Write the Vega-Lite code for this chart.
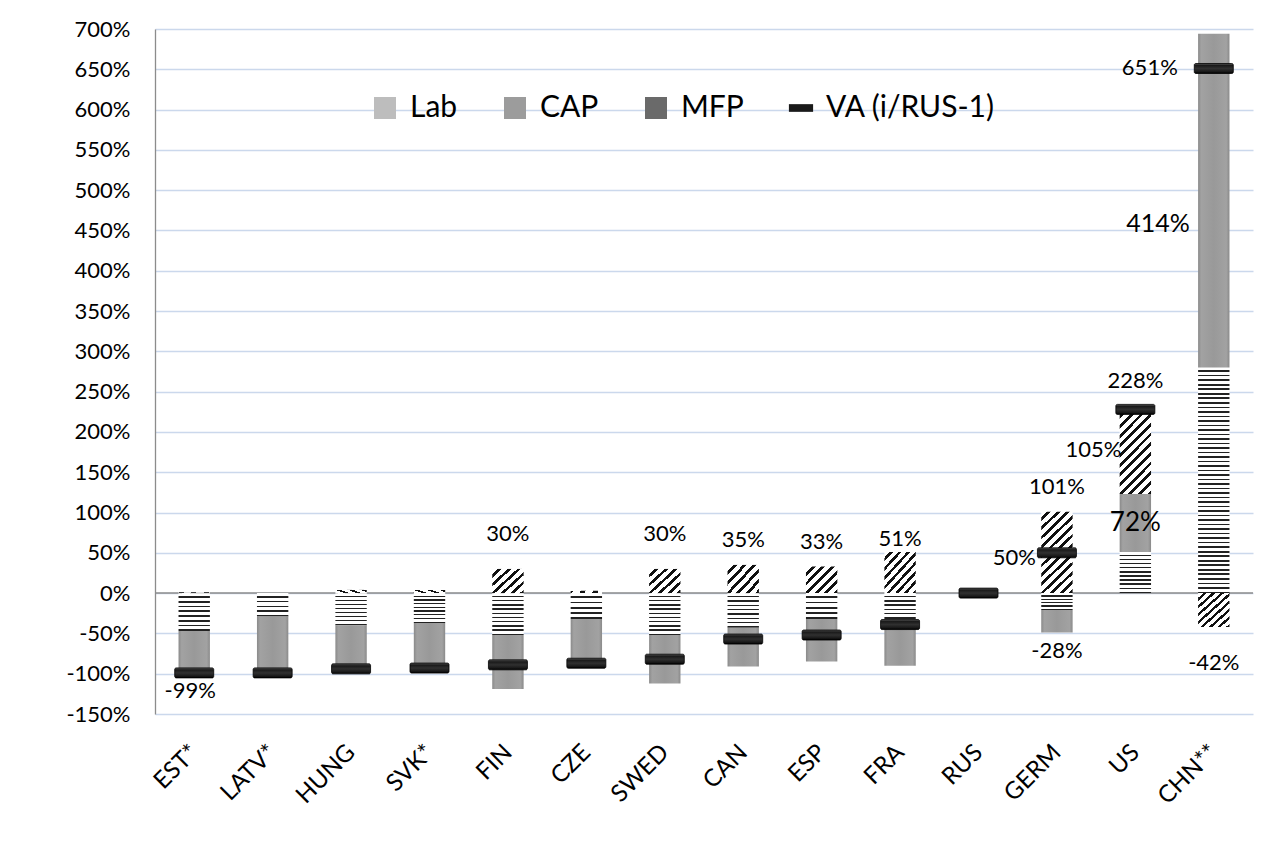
{
"$schema":"https://vega.github.io/schema/vega-lite/v6.json",
"width":1098,"height":685,
"autosize":{"type":"none"},
"padding":{"left":155,"top":29,"right":35,"bottom":141},
"background":"#ffffff",
"config":{"font":"Lato","view":{"stroke":null},"locale":{"number":{"decimal":".","thousands":",","grouping":[3],"currency":["$",""],"minus":"-"}},"text":{"font":"Lato","fontSize":22,"color":"#000"}},
"datasets":{
"comp":[
{"country":"EST*","component":"Lab","k":1,"value":-0.47},{"country":"EST*","component":"CAP","k":2,"value":-0.53},{"country":"EST*","component":"MFP","k":3,"value":0.01},
{"country":"LATV*","component":"Lab","k":1,"value":-0.29},{"country":"LATV*","component":"CAP","k":2,"value":-0.70},{"country":"LATV*","component":"MFP","k":3,"value":0},
{"country":"HUNG","component":"Lab","k":1,"value":-0.40},{"country":"HUNG","component":"CAP","k":2,"value":-0.58},{"country":"HUNG","component":"MFP","k":3,"value":0.04},
{"country":"SVK*","component":"Lab","k":1,"value":-0.37},{"country":"SVK*","component":"CAP","k":2,"value":-0.60},{"country":"SVK*","component":"MFP","k":3,"value":0.04},
{"country":"FIN","component":"Lab","k":1,"value":-0.52},{"country":"FIN","component":"CAP","k":2,"value":-0.67},{"country":"FIN","component":"MFP","k":3,"value":0.30},
{"country":"CZE","component":"Lab","k":1,"value":-0.32},{"country":"CZE","component":"CAP","k":2,"value":-0.58},{"country":"CZE","component":"MFP","k":3,"value":0.03},
{"country":"SWED","component":"Lab","k":1,"value":-0.52},{"country":"SWED","component":"CAP","k":2,"value":-0.60},{"country":"SWED","component":"MFP","k":3,"value":0.30},
{"country":"CAN","component":"Lab","k":1,"value":-0.43},{"country":"CAN","component":"CAP","k":2,"value":-0.48},{"country":"CAN","component":"MFP","k":3,"value":0.35},
{"country":"ESP","component":"Lab","k":1,"value":-0.32},{"country":"ESP","component":"CAP","k":2,"value":-0.53},{"country":"ESP","component":"MFP","k":3,"value":0.33},
{"country":"FRA","component":"Lab","k":1,"value":-0.42},{"country":"FRA","component":"CAP","k":2,"value":-0.48},{"country":"FRA","component":"MFP","k":3,"value":0.51},
{"country":"RUS","component":"Lab","k":1,"value":0},{"country":"RUS","component":"CAP","k":2,"value":0},{"country":"RUS","component":"MFP","k":3,"value":0},
{"country":"GERM","component":"Lab","k":1,"value":-0.21},{"country":"GERM","component":"CAP","k":2,"value":-0.28},{"country":"GERM","component":"MFP","k":3,"value":1.01},
{"country":"US","component":"Lab","k":1,"value":0.51},{"country":"US","component":"CAP","k":2,"value":0.72},{"country":"US","component":"MFP","k":3,"value":1.05},
{"country":"CHN**","component":"Lab","k":1,"value":2.80},{"country":"CHN**","component":"CAP","k":2,"value":4.14},{"country":"CHN**","component":"MFP","k":3,"value":-0.42}
],
"va":[
{"country":"EST*","va":-0.99},{"country":"LATV*","va":-0.99},{"country":"HUNG","va":-0.94},{"country":"SVK*","va":-0.93},{"country":"FIN","va":-0.89},{"country":"CZE","va":-0.87},{"country":"SWED","va":-0.82},{"country":"CAN","va":-0.57},{"country":"ESP","va":-0.52},{"country":"FRA","va":-0.39},{"country":"RUS","va":0},{"country":"GERM","va":0.50},{"country":"US","va":2.28},{"country":"CHN**","va":6.51}
]},
"layer":[
{"data":{"values":[{}]},"mark":{"type":"rule","color":"#8c8c8c","strokeWidth":1.5},
 "encoding":{"y":{"datum":0,"type":"quantitative","scale":{"domain":[-1.5,7],"nice":false,"zero":false},
  "axis":{"title":null,"values":[-1.5,-1,-0.5,0,0.5,1,1.5,2,2.5,3,3.5,4,4.5,5,5.5,6,6.5,7],"format":".0%","grid":true,"gridColor":"#cbd8ec","gridWidth":1.3,"ticks":false,"domain":true,"domainColor":"#8c8c8c","domainWidth":1.3,"labelFontSize":22,"labelColor":"#000","labelPadding":25,"labelFont":"Lato"}}}},
{"data":{"name":"comp"},
 "encoding":{
  "x":{"field":"country","type":"nominal","sort":null,"scale":{"domain":["EST*","LATV*","HUNG","SVK*","FIN","CZE","SWED","CAN","ESP","FRA","RUS","GERM","US","CHN**"],"paddingInner":0.6,"paddingOuter":0.3},
   "axis":{"title":null,"labelAngle":-45,"labelFontSize":24,"labelColor":"#000","labelFont":"Lato","ticks":false,"domain":false,"labelPadding":26,"labelOffset":-8,"grid":false}},
  "y":{"field":"value","type":"quantitative","stack":"zero"},
  "detail":{"field":"component"},
  "order":{"field":"k","type":"quantitative"}},
 "layer":[
  {"mark":{"type":"bar"},
   "encoding":{"fill":{
    "condition":[
     {"test":"datum.component==='Lab' && datum.country==='CHN**'","value":{"gradient":"linear","x1":0,"y1":0,"x2":0,"y2":1,"stops":[
{"offset":0,"color":"#fff"},{"offset":0.013,"color":"#fff"},{"offset":0.013,"color":"#222"},{"offset":0.02,"color":"#222"},
{"offset":0.02,"color":"#fff"},{"offset":0.033,"color":"#fff"},{"offset":0.033,"color":"#222"},{"offset":0.04,"color":"#222"},
{"offset":0.04,"color":"#fff"},{"offset":0.053,"color":"#fff"},{"offset":0.053,"color":"#222"},{"offset":0.06,"color":"#222"},
{"offset":0.06,"color":"#fff"},{"offset":0.073,"color":"#fff"},{"offset":0.073,"color":"#222"},{"offset":0.08,"color":"#222"},
{"offset":0.08,"color":"#fff"},{"offset":0.093,"color":"#fff"},{"offset":0.093,"color":"#222"},{"offset":0.1,"color":"#222"},
{"offset":0.1,"color":"#fff"},{"offset":0.113,"color":"#fff"},{"offset":0.113,"color":"#222"},{"offset":0.12,"color":"#222"},
{"offset":0.12,"color":"#fff"},{"offset":0.133,"color":"#fff"},{"offset":0.133,"color":"#222"},{"offset":0.14,"color":"#222"},
{"offset":0.14,"color":"#fff"},{"offset":0.153,"color":"#fff"},{"offset":0.153,"color":"#222"},{"offset":0.16,"color":"#222"},
{"offset":0.16,"color":"#fff"},{"offset":0.173,"color":"#fff"},{"offset":0.173,"color":"#222"},{"offset":0.18,"color":"#222"},
{"offset":0.18,"color":"#fff"},{"offset":0.193,"color":"#fff"},{"offset":0.193,"color":"#222"},{"offset":0.2,"color":"#222"},
{"offset":0.2,"color":"#fff"},{"offset":0.213,"color":"#fff"},{"offset":0.213,"color":"#222"},{"offset":0.22,"color":"#222"},
{"offset":0.22,"color":"#fff"},{"offset":0.233,"color":"#fff"},{"offset":0.233,"color":"#222"},{"offset":0.24,"color":"#222"},
{"offset":0.24,"color":"#fff"},{"offset":0.253,"color":"#fff"},{"offset":0.253,"color":"#222"},{"offset":0.26,"color":"#222"},
{"offset":0.26,"color":"#fff"},{"offset":0.273,"color":"#fff"},{"offset":0.273,"color":"#222"},{"offset":0.28,"color":"#222"},
{"offset":0.28,"color":"#fff"},{"offset":0.293,"color":"#fff"},{"offset":0.293,"color":"#222"},{"offset":0.3,"color":"#222"},
{"offset":0.3,"color":"#fff"},{"offset":0.313,"color":"#fff"},{"offset":0.313,"color":"#222"},{"offset":0.32,"color":"#222"},
{"offset":0.32,"color":"#fff"},{"offset":0.333,"color":"#fff"},{"offset":0.333,"color":"#222"},{"offset":0.34,"color":"#222"},
{"offset":0.34,"color":"#fff"},{"offset":0.353,"color":"#fff"},{"offset":0.353,"color":"#222"},{"offset":0.36,"color":"#222"},
{"offset":0.36,"color":"#fff"},{"offset":0.373,"color":"#fff"},{"offset":0.373,"color":"#222"},{"offset":0.38,"color":"#222"},
{"offset":0.38,"color":"#fff"},{"offset":0.393,"color":"#fff"},{"offset":0.393,"color":"#222"},{"offset":0.4,"color":"#222"},
{"offset":0.4,"color":"#fff"},{"offset":0.413,"color":"#fff"},{"offset":0.413,"color":"#222"},{"offset":0.42,"color":"#222"},
{"offset":0.42,"color":"#fff"},{"offset":0.433,"color":"#fff"},{"offset":0.433,"color":"#222"},{"offset":0.44,"color":"#222"},
{"offset":0.44,"color":"#fff"},{"offset":0.453,"color":"#fff"},{"offset":0.453,"color":"#222"},{"offset":0.46,"color":"#222"},
{"offset":0.46,"color":"#fff"},{"offset":0.473,"color":"#fff"},{"offset":0.473,"color":"#222"},{"offset":0.48,"color":"#222"},
{"offset":0.48,"color":"#fff"},{"offset":0.493,"color":"#fff"},{"offset":0.493,"color":"#222"},{"offset":0.5,"color":"#222"},
{"offset":0.5,"color":"#fff"},{"offset":0.513,"color":"#fff"},{"offset":0.513,"color":"#222"},{"offset":0.52,"color":"#222"},
{"offset":0.52,"color":"#fff"},{"offset":0.533,"color":"#fff"},{"offset":0.533,"color":"#222"},{"offset":0.54,"color":"#222"},
{"offset":0.54,"color":"#fff"},{"offset":0.553,"color":"#fff"},{"offset":0.553,"color":"#222"},{"offset":0.56,"color":"#222"},
{"offset":0.56,"color":"#fff"},{"offset":0.573,"color":"#fff"},{"offset":0.573,"color":"#222"},{"offset":0.58,"color":"#222"},
{"offset":0.58,"color":"#fff"},{"offset":0.593,"color":"#fff"},{"offset":0.593,"color":"#222"},{"offset":0.6,"color":"#222"},
{"offset":0.6,"color":"#fff"},{"offset":0.613,"color":"#fff"},{"offset":0.613,"color":"#222"},{"offset":0.62,"color":"#222"},
{"offset":0.62,"color":"#fff"},{"offset":0.633,"color":"#fff"},{"offset":0.633,"color":"#222"},{"offset":0.64,"color":"#222"},
{"offset":0.64,"color":"#fff"},{"offset":0.653,"color":"#fff"},{"offset":0.653,"color":"#222"},{"offset":0.66,"color":"#222"},
{"offset":0.66,"color":"#fff"},{"offset":0.673,"color":"#fff"},{"offset":0.673,"color":"#222"},{"offset":0.68,"color":"#222"},
{"offset":0.68,"color":"#fff"},{"offset":0.693,"color":"#fff"},{"offset":0.693,"color":"#222"},{"offset":0.7,"color":"#222"},
{"offset":0.7,"color":"#fff"},{"offset":0.713,"color":"#fff"},{"offset":0.713,"color":"#222"},{"offset":0.72,"color":"#222"},
{"offset":0.72,"color":"#fff"},{"offset":0.733,"color":"#fff"},{"offset":0.733,"color":"#222"},{"offset":0.74,"color":"#222"},
{"offset":0.74,"color":"#fff"},{"offset":0.753,"color":"#fff"},{"offset":0.753,"color":"#222"},{"offset":0.76,"color":"#222"},
{"offset":0.76,"color":"#fff"},{"offset":0.773,"color":"#fff"},{"offset":0.773,"color":"#222"},{"offset":0.78,"color":"#222"},
{"offset":0.78,"color":"#fff"},{"offset":0.793,"color":"#fff"},{"offset":0.793,"color":"#222"},{"offset":0.8,"color":"#222"},
{"offset":0.8,"color":"#fff"},{"offset":0.813,"color":"#fff"},{"offset":0.813,"color":"#222"},{"offset":0.82,"color":"#222"},
{"offset":0.82,"color":"#fff"},{"offset":0.833,"color":"#fff"},{"offset":0.833,"color":"#222"},{"offset":0.84,"color":"#222"},
{"offset":0.84,"color":"#fff"},{"offset":0.853,"color":"#fff"},{"offset":0.853,"color":"#222"},{"offset":0.86,"color":"#222"},
{"offset":0.86,"color":"#fff"},{"offset":0.873,"color":"#fff"},{"offset":0.873,"color":"#222"},{"offset":0.88,"color":"#222"},
{"offset":0.88,"color":"#fff"},{"offset":0.893,"color":"#fff"},{"offset":0.893,"color":"#222"},{"offset":0.9,"color":"#222"},
{"offset":0.9,"color":"#fff"},{"offset":0.913,"color":"#fff"},{"offset":0.913,"color":"#222"},{"offset":0.92,"color":"#222"},
{"offset":0.92,"color":"#fff"},{"offset":0.933,"color":"#fff"},{"offset":0.933,"color":"#222"},{"offset":0.94,"color":"#222"},
{"offset":0.94,"color":"#fff"},{"offset":0.953,"color":"#fff"},{"offset":0.953,"color":"#222"},{"offset":0.96,"color":"#222"},
{"offset":0.96,"color":"#fff"},{"offset":0.973,"color":"#fff"},{"offset":0.973,"color":"#222"},{"offset":0.98,"color":"#222"},
{"offset":0.98,"color":"#fff"},{"offset":0.993,"color":"#fff"},{"offset":0.993,"color":"#222"},{"offset":1,"color":"#222"}]}},
     {"test":"datum.component==='Lab' && indexof(['LATV*','CZE','ESP','GERM'],datum.country)>=0","value":{"gradient":"linear","x1":0,"y1":0,"x2":0,"y2":1,"stops":[{"offset":0,"color":"#fff"},{"offset":0.13,"color":"#fff"},{"offset":0.13,"color":"#222"},{"offset":0.2,"color":"#222"},{"offset":0.2,"color":"#fff"},{"offset":0.33,"color":"#fff"},{"offset":0.33,"color":"#222"},{"offset":0.4,"color":"#222"},{"offset":0.4,"color":"#fff"},{"offset":0.53,"color":"#fff"},{"offset":0.53,"color":"#222"},{"offset":0.6,"color":"#222"},{"offset":0.6,"color":"#fff"},{"offset":0.73,"color":"#fff"},{"offset":0.73,"color":"#222"},{"offset":0.8,"color":"#222"},{"offset":0.8,"color":"#fff"},{"offset":0.93,"color":"#fff"},{"offset":0.93,"color":"#222"},{"offset":1,"color":"#222"}]}},
     {"test":"datum.component==='Lab' && indexof(['FIN','SWED','US'],datum.country)>=0","value":{"gradient":"linear","x1":0,"y1":0,"x2":0,"y2":1,"stops":[{"offset":0,"color":"#fff"},{"offset":0.065,"color":"#fff"},{"offset":0.065,"color":"#222"},{"offset":0.1,"color":"#222"},{"offset":0.1,"color":"#fff"},{"offset":0.165,"color":"#fff"},{"offset":0.165,"color":"#222"},{"offset":0.2,"color":"#222"},{"offset":0.2,"color":"#fff"},{"offset":0.265,"color":"#fff"},{"offset":0.265,"color":"#222"},{"offset":0.3,"color":"#222"},{"offset":0.3,"color":"#fff"},{"offset":0.365,"color":"#fff"},{"offset":0.365,"color":"#222"},{"offset":0.4,"color":"#222"},{"offset":0.4,"color":"#fff"},{"offset":0.465,"color":"#fff"},{"offset":0.465,"color":"#222"},{"offset":0.5,"color":"#222"},{"offset":0.5,"color":"#fff"},{"offset":0.565,"color":"#fff"},{"offset":0.565,"color":"#222"},{"offset":0.6,"color":"#222"},{"offset":0.6,"color":"#fff"},{"offset":0.665,"color":"#fff"},{"offset":0.665,"color":"#222"},{"offset":0.7,"color":"#222"},{"offset":0.7,"color":"#fff"},{"offset":0.765,"color":"#fff"},{"offset":0.765,"color":"#222"},{"offset":0.8,"color":"#222"},{"offset":0.8,"color":"#fff"},{"offset":0.865,"color":"#fff"},{"offset":0.865,"color":"#222"},{"offset":0.9,"color":"#222"},{"offset":0.9,"color":"#fff"},{"offset":0.965,"color":"#fff"},{"offset":0.965,"color":"#222"},{"offset":1,"color":"#222"}]}},
     {"test":"datum.component==='Lab'","value":{"gradient":"linear","x1":0,"y1":0,"x2":0,"y2":1,"stops":[{"offset":0,"color":"#fff"},{"offset":0.08,"color":"#fff"},{"offset":0.08,"color":"#222"},{"offset":0.125,"color":"#222"},{"offset":0.125,"color":"#fff"},{"offset":0.205,"color":"#fff"},{"offset":0.205,"color":"#222"},{"offset":0.25,"color":"#222"},{"offset":0.25,"color":"#fff"},{"offset":0.33,"color":"#fff"},{"offset":0.33,"color":"#222"},{"offset":0.375,"color":"#222"},{"offset":0.375,"color":"#fff"},{"offset":0.455,"color":"#fff"},{"offset":0.455,"color":"#222"},{"offset":0.5,"color":"#222"},{"offset":0.5,"color":"#fff"},{"offset":0.58,"color":"#fff"},{"offset":0.58,"color":"#222"},{"offset":0.625,"color":"#222"},{"offset":0.625,"color":"#fff"},{"offset":0.705,"color":"#fff"},{"offset":0.705,"color":"#222"},{"offset":0.75,"color":"#222"},{"offset":0.75,"color":"#fff"},{"offset":0.83,"color":"#fff"},{"offset":0.83,"color":"#222"},{"offset":0.875,"color":"#222"},{"offset":0.875,"color":"#fff"},{"offset":0.955,"color":"#fff"},{"offset":0.955,"color":"#222"},{"offset":1,"color":"#222"}]}},
     {"test":"datum.component==='CAP'","value":{"gradient":"linear","x1":0,"y1":0,"x2":1,"y2":0,"stops":[{"offset":0,"color":"#8a8a8a"},{"offset":0.1,"color":"#a2a2a2"},{"offset":0.5,"color":"#999999"},{"offset":0.9,"color":"#a2a2a2"},{"offset":1,"color":"#8a8a8a"}]}},
     {"test":"datum.component==='MFP' && indexof(['FIN','SWED','CAN','ESP'],datum.country)>=0","value":{"gradient":"linear","x1":0,"y1":0,"x2":1.079,"y2":0.905,"stops":[{"offset":0,"color":"#fff"},{"offset":0.1,"color":"#fff"},{"offset":0.1,"color":"#111"},{"offset":0.1667,"color":"#111"},{"offset":0.1667,"color":"#fff"},{"offset":0.2667,"color":"#fff"},{"offset":0.2667,"color":"#111"},{"offset":0.3333,"color":"#111"},{"offset":0.3333,"color":"#fff"},{"offset":0.4333,"color":"#fff"},{"offset":0.4333,"color":"#111"},{"offset":0.5,"color":"#111"},{"offset":0.5,"color":"#fff"},{"offset":0.6,"color":"#fff"},{"offset":0.6,"color":"#111"},{"offset":0.6667,"color":"#111"},{"offset":0.6667,"color":"#fff"},{"offset":0.7667,"color":"#fff"},{"offset":0.7667,"color":"#111"},{"offset":0.8333,"color":"#111"},{"offset":0.8333,"color":"#fff"},{"offset":0.9333,"color":"#fff"},{"offset":0.9333,"color":"#111"},{"offset":1,"color":"#111"}]}},
     {"test":"datum.component==='MFP' && indexof(['FRA','CHN**'],datum.country)>=0","value":{"gradient":"linear","x1":0,"y1":0,"x2":0.9,"y2":1.08,"stops":[{"offset":0,"color":"#fff"},{"offset":0.075,"color":"#fff"},{"offset":0.075,"color":"#111"},{"offset":0.125,"color":"#111"},{"offset":0.125,"color":"#fff"},{"offset":0.2,"color":"#fff"},{"offset":0.2,"color":"#111"},{"offset":0.25,"color":"#111"},{"offset":0.25,"color":"#fff"},{"offset":0.325,"color":"#fff"},{"offset":0.325,"color":"#111"},{"offset":0.375,"color":"#111"},{"offset":0.375,"color":"#fff"},{"offset":0.45,"color":"#fff"},{"offset":0.45,"color":"#111"},{"offset":0.5,"color":"#111"},{"offset":0.5,"color":"#fff"},{"offset":0.575,"color":"#fff"},{"offset":0.575,"color":"#111"},{"offset":0.625,"color":"#111"},{"offset":0.625,"color":"#fff"},{"offset":0.7,"color":"#fff"},{"offset":0.7,"color":"#111"},{"offset":0.75,"color":"#111"},{"offset":0.75,"color":"#fff"},{"offset":0.825,"color":"#fff"},{"offset":0.825,"color":"#111"},{"offset":0.875,"color":"#111"},{"offset":0.875,"color":"#fff"},{"offset":0.95,"color":"#fff"},{"offset":0.95,"color":"#111"},{"offset":1,"color":"#111"}]}},
     {"test":"datum.component==='MFP' && indexof(['GERM','US'],datum.country)>=0","value":{"gradient":"linear","x1":0,"y1":0,"x2":0.45,"y2":1.205,"stops":[{"offset":0,"color":"#fff"},{"offset":0.05,"color":"#fff"},{"offset":0.05,"color":"#111"},{"offset":0.0833,"color":"#111"},{"offset":0.0833,"color":"#fff"},{"offset":0.1333,"color":"#fff"},{"offset":0.1333,"color":"#111"},{"offset":0.1667,"color":"#111"},{"offset":0.1667,"color":"#fff"},{"offset":0.2167,"color":"#fff"},{"offset":0.2167,"color":"#111"},{"offset":0.25,"color":"#111"},{"offset":0.25,"color":"#fff"},{"offset":0.3,"color":"#fff"},{"offset":0.3,"color":"#111"},{"offset":0.3333,"color":"#111"},{"offset":0.3333,"color":"#fff"},{"offset":0.3833,"color":"#fff"},{"offset":0.3833,"color":"#111"},{"offset":0.4167,"color":"#111"},{"offset":0.4167,"color":"#fff"},{"offset":0.4667,"color":"#fff"},{"offset":0.4667,"color":"#111"},{"offset":0.5,"color":"#111"},{"offset":0.5,"color":"#fff"},{"offset":0.55,"color":"#fff"},{"offset":0.55,"color":"#111"},{"offset":0.5833,"color":"#111"},{"offset":0.5833,"color":"#fff"},{"offset":0.6333,"color":"#fff"},{"offset":0.6333,"color":"#111"},{"offset":0.6667,"color":"#111"},{"offset":0.6667,"color":"#fff"},{"offset":0.7167,"color":"#fff"},{"offset":0.7167,"color":"#111"},{"offset":0.75,"color":"#111"},{"offset":0.75,"color":"#fff"},{"offset":0.8,"color":"#fff"},{"offset":0.8,"color":"#111"},{"offset":0.8333,"color":"#111"},{"offset":0.8333,"color":"#fff"},{"offset":0.8833,"color":"#fff"},{"offset":0.8833,"color":"#111"},{"offset":0.9167,"color":"#111"},{"offset":0.9167,"color":"#fff"},{"offset":0.9667,"color":"#fff"},{"offset":0.9667,"color":"#111"},{"offset":1,"color":"#111"}]}},
     {"test":"datum.component==='MFP'","value":{"gradient":"linear","x1":0,"y1":0,"x2":1,"y2":1,"stops":[{"offset":0,"color":"#fff"},{"offset":0.12,"color":"#fff"},{"offset":0.12,"color":"#111"},{"offset":0.2,"color":"#111"},{"offset":0.2,"color":"#fff"},{"offset":0.32,"color":"#fff"},{"offset":0.32,"color":"#111"},{"offset":0.4,"color":"#111"},{"offset":0.4,"color":"#fff"},{"offset":0.52,"color":"#fff"},{"offset":0.52,"color":"#111"},{"offset":0.6,"color":"#111"},{"offset":0.6,"color":"#fff"},{"offset":0.72,"color":"#fff"},{"offset":0.72,"color":"#111"},{"offset":0.8,"color":"#111"},{"offset":0.8,"color":"#fff"},{"offset":0.92,"color":"#fff"},{"offset":0.92,"color":"#111"},{"offset":1,"color":"#111"}]}}
    ],"value":"#999999"}}},
  {"mark":{"type":"point","filled":true,"opacity":0},
   "encoding":{"y":{"field":"value","type":"quantitative"},
    "fill":{"field":"component","type":"nominal",
     "scale":{"domain":["Lab","CAP","MFP","VA (i/RUS-1)"],"range":["#bdbdbd","#9c9c9c","#6a6a6a","#1a1a1a"]},
     "legend":{"title":null,"orient":"none","legendX":215,"legendY":64,"direction":"horizontal","symbolSize":484,"symbolOpacity":1,"symbolStrokeWidth":0,"labelFontSize":30,"labelFont":"Lato","labelColor":"#000","labelOffset":10,"labelLimit":0,"columnPadding":42}},
    "shape":{"field":"component","type":"nominal",
     "scale":{"domain":["Lab","CAP","MFP","VA (i/RUS-1)"],"range":["square","square","square","M-1.1,-0.35H1.1V0.35H-1.1Z"]},
     "legend":{"title":null,"orient":"none","legendX":215,"legendY":64,"direction":"horizontal","symbolSize":484,"symbolOpacity":1,"symbolStrokeWidth":0,"labelFontSize":30,"labelFont":"Lato","labelColor":"#000","labelOffset":10,"labelLimit":0,"columnPadding":42}}}},
  {"mark":{"type":"text","dy":-35},"encoding":{"text":{"field":"value","type":"quantitative","format":".0%","condition":{"test":"!(datum.component==='MFP' && indexof(['FIN','SWED'],datum.country)>=0)","value":""}}}},
  {"mark":{"type":"text","dy":-25},"encoding":{"text":{"field":"value","type":"quantitative","format":".0%","condition":{"test":"!(datum.component==='MFP' && indexof(['CAN','ESP','GERM'],datum.country)>=0)","value":""}}}},
  {"mark":{"type":"text","dy":-13},"encoding":{"text":{"field":"value","type":"quantitative","format":".0%","condition":{"test":"!(datum.component==='MFP' && datum.country==='FRA')","value":""}}}},
  {"mark":{"type":"text","dy":18},"encoding":{"text":{"field":"value","type":"quantitative","format":".0%","condition":{"test":"!(datum.component==='CAP' && datum.country==='GERM')","value":""}}}},
  {"mark":{"type":"text","fontSize":26},"encoding":{"y":{"field":"value","type":"quantitative","stack":"zero","bandPosition":0.5},"text":{"field":"value","type":"quantitative","format":".0%","condition":{"test":"!(datum.component==='CAP' && datum.country==='US')","value":""}}}},
  {"mark":{"type":"text","fontSize":25,"dy":23,"dx":-24,"align":"right"},"encoding":{"y":{"field":"value","type":"quantitative","stack":"zero","bandPosition":0.5},"text":{"field":"value","type":"quantitative","format":".0%","condition":{"test":"!(datum.component==='CAP' && datum.country==='CHN**')","value":""}}}},
  {"mark":{"type":"text","dy":-2,"dx":-14,"align":"right"},"encoding":{"y":{"field":"value","type":"quantitative","stack":"zero","bandPosition":0.5},"text":{"field":"value","type":"quantitative","format":".0%","condition":{"test":"!(datum.component==='MFP' && datum.country==='US')","value":""}}}},
  {"mark":{"type":"text","dy":36},"encoding":{"text":{"field":"value","type":"quantitative","format":".0%","condition":{"test":"!(datum.component==='MFP' && datum.country==='CHN**')","value":""}}}}
 ]},
{"data":{"name":"va"},
 "encoding":{"x":{"field":"country","type":"nominal","sort":null},"y":{"field":"va","type":"quantitative"}},
 "layer":[
  {"mark":{"type":"tick","thickness":10,"size":39,"opacity":1,"stroke":"#000","strokeWidth":0.8,"cornerRadius":1.5,"fill":{"gradient":"linear","x1":0,"y1":0,"x2":0,"y2":1,"stops":[{"offset":0,"color":"#5a5a5a"},{"offset":0.2,"color":"#1a1a1a"},{"offset":0.5,"color":"#303030"},{"offset":0.8,"color":"#1a1a1a"},{"offset":1,"color":"#000000"}]}}},
  {"transform":[{"filter":"datum.country==='EST*'"}],"mark":{"type":"text","dy":18,"dx":-4},"encoding":{"text":{"field":"va","type":"quantitative","format":".0%"}}},
  {"transform":[{"filter":"datum.country==='GERM'"}],"mark":{"type":"text","dy":5,"dx":-21,"align":"right"},"encoding":{"text":{"field":"va","type":"quantitative","format":".0%"}}},
  {"transform":[{"filter":"datum.country==='US'"}],"mark":{"type":"text","dy":-28},"encoding":{"text":{"field":"va","type":"quantitative","format":".0%"}}},
  {"transform":[{"filter":"datum.country==='CHN**'"}],"mark":{"type":"text","dx":-36,"align":"right"},"encoding":{"text":{"field":"va","type":"quantitative","format":".0%"}}}
 ]}
]
}
